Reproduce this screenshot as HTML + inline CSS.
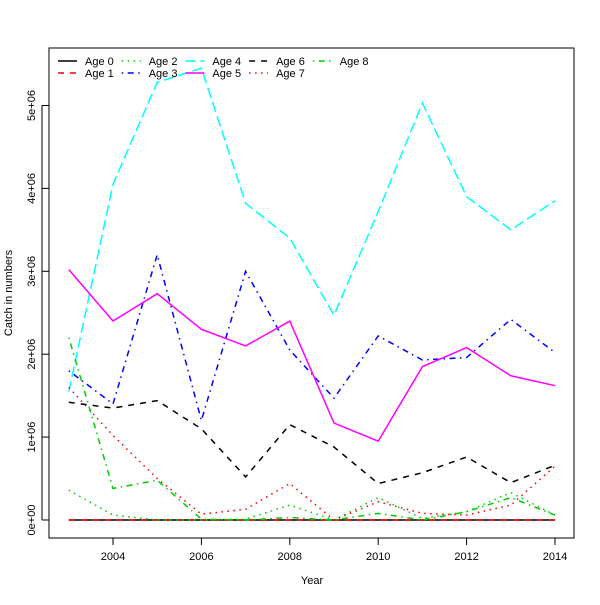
<!DOCTYPE html>
<html><head><meta charset="utf-8"><style>
body{margin:0;background:#fff}
svg text{font-family:"Liberation Sans","DejaVu Sans",sans-serif;font-size:11px;fill:#000}
</style></head><body>
<svg id="chart" width="600" height="600">
<rect x="49" y="48" width="525" height="490" fill="none" stroke="#000"/>
<g id="axes"></g><g id="series"></g><g id="legend"></g>
<text x="312" y="584" text-anchor="middle">Year</text>
<text transform="translate(12,293) rotate(-90)" text-anchor="middle">Catch in numbers</text>
</svg>
<script>
const years=[2003,2004,2005,2006,2007,2008,2009,2010,2011,2012,2013,2014];
const xTicks=[2004,2006,2008,2010,2012,2014];
const yTicks=[0,1e6,2e6,3e6,4e6,5e6];
const yTickLabels=["0e+00","1e+06","2e+06","3e+06","4e+06","5e+06"];
const seriesNames=["Age 0","Age 1","Age 2","Age 3","Age 4","Age 5","Age 6","Age 7","Age 8"];
const age0=[0,0,0,0,0,0,0,0,0,0,0,0];
const age1=[0,0,0,0,0,0,0,0,0,0,0,0];
const age2=[0.36e6,0.06e6,0,0,0.01e6,0.18e6,0,0.27e6,0.02e6,0.1e6,0.33e6,0.06e6];
const age3=[1.8e6,1.4e6,3.2e6,1.2e6,3.0e6,2.05e6,1.47e6,2.22e6,1.93e6,1.96e6,2.42e6,2.02e6];
const age4=[1.55e6,4.05e6,5.28e6,5.45e6,3.82e6,3.4e6,2.47e6,3.72e6,5.03e6,3.9e6,3.5e6,3.85e6];
const age5=[3.02e6,2.4e6,2.73e6,2.3e6,2.1e6,2.4e6,1.17e6,0.95e6,1.85e6,2.08e6,1.74e6,1.62e6];
const age6=[1.42e6,1.35e6,1.44e6,1.1e6,0.52e6,1.15e6,0.88e6,0.44e6,0.57e6,0.76e6,0.45e6,0.66e6];
const age7=[1.6e6,1.02e6,0.5e6,0.07e6,0.13e6,0.44e6,0,0.22e6,0.08e6,0.06e6,0.18e6,0.65e6];
const age8=[2.2e6,0.38e6,0.48e6,0.01e6,0,0.03e6,0,0.08e6,0,0.1e6,0.27e6,0.06e6];
const allSeries=[age0,age1,age2,age3,age4,age5,age6,age7,age8];
const colors=["#000","#f00","#00cd00","#00f","#0ff","#f0f","#000","#f00","#00cd00"];
const dashes=["none","6,6","1.5,4.5","1.5,4.5,6,4.5","10.5,4.5"];
const NS="http://www.w3.org/2000/svg";
const x=v=>68.8+(v-2003)*44.2;
const y=v=>520-v/1e6*82.9;
function mk(t,a,p){const e=document.createElementNS(NS,t);for(const k in a)e.setAttribute(k,a[k]);p.appendChild(e);return e;}
const axes=document.getElementById('axes');
mk('line',{x1:x(2004),x2:x(2014),y1:538,y2:538,stroke:'#000'},axes);
xTicks.forEach(t=>{
  const l=mk('line',{x1:x(t),x2:x(t),y1:538,y2:545,stroke:'#000'},axes);
  
  
  const tx=mk('text',{x:x(t),y:560,'text-anchor':'middle'},axes);tx.textContent=t;
  
  
});
mk('line',{x1:42,x2:42,y1:y(0),y2:y(5e6),stroke:'#000'},axes);
yTicks.forEach((t,i)=>{
  const l=mk('line',{x1:42,x2:49,y1:y(t),y2:y(t),stroke:'#000'},axes);
  
  
  const tx=mk('text',{transform:`translate(35,${y(t)}) rotate(-90)`,'text-anchor':'middle'},axes);tx.textContent=yTickLabels[i];
  
  
});
const sg=document.getElementById('series');
allSeries.forEach((s,i)=>{
  const p=mk('polyline',{points:s.map((v,j)=>x(years[j])+','+y(v)).join(' '),fill:'none',stroke:colors[i],'stroke-width':1.5,'stroke-dasharray':dashes[i%5]},sg);
  
  
});
const lg=document.getElementById('legend');
seriesNames.forEach((n,i)=>{
  const col=Math.floor(i/2),row=i%2;
  const lx=58+col*63.7,ly=61+row*12;
  const g=mk('g',{},lg);
  
  
  mk('line',{x1:lx,x2:lx+19,y1:ly,y2:ly,stroke:colors[i],'stroke-width':1.5,'stroke-dasharray':dashes[i%5]},g);
  const t=mk('text',{x:lx+27,y:ly+4},g);t.textContent=n;
});
</script>
</body></html>
